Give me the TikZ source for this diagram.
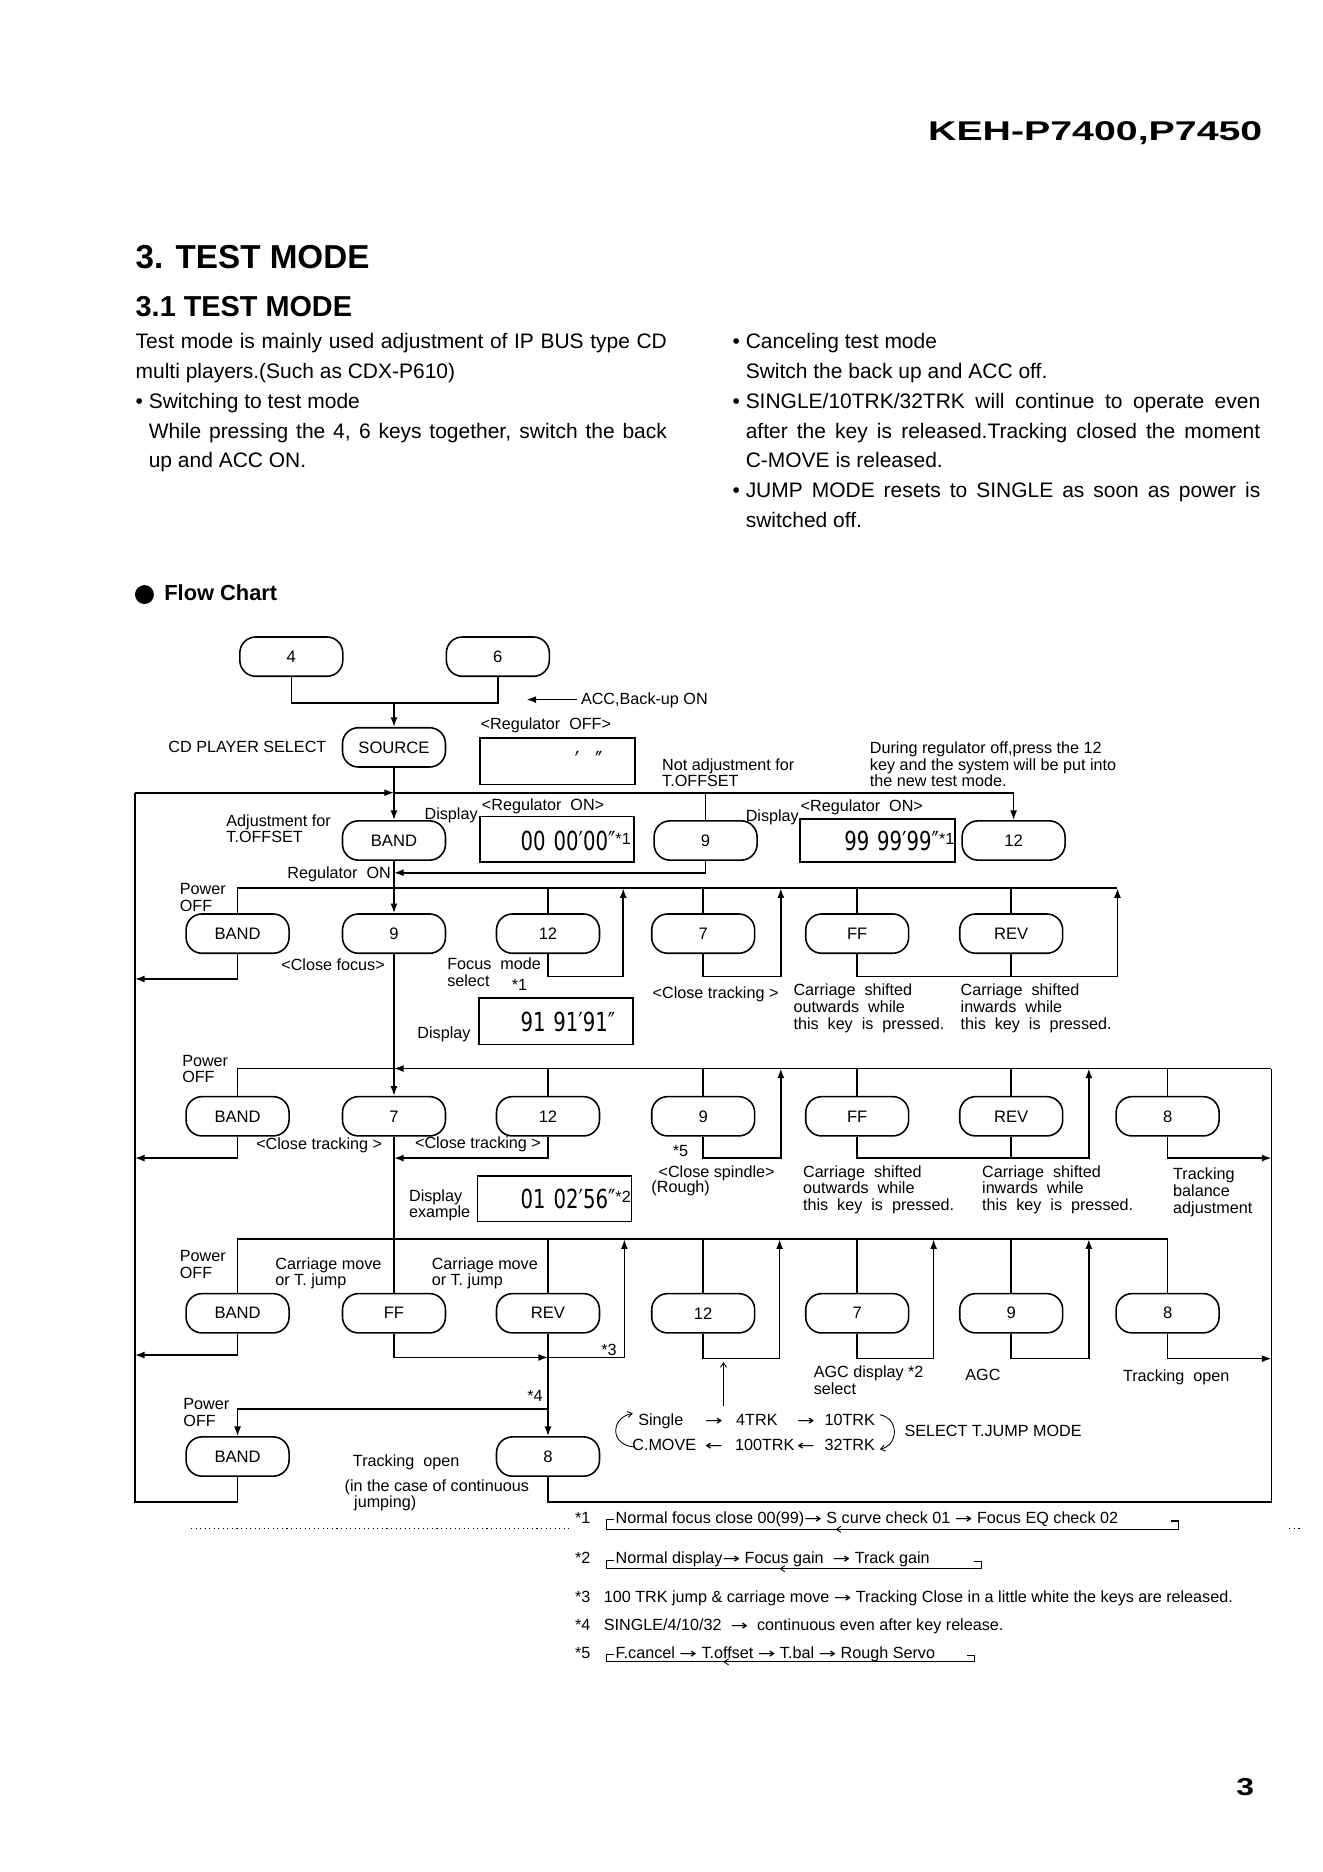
\documentclass[tikz,border=0pt]{standalone}
\usepackage{graphicx}
\usepackage{fontspec}
\setmainfont{Liberation Sans}
\newfontfamily\lcdfont{DejaVu Sans}
\usetikzlibrary{arrows.meta}
\newcommand\lblf{\fontsize{9.25pt}{9.6pt}\selectfont}
\newcommand\keyf{\fontsize{9.5pt}{10pt}\selectfont}
\newcommand\ml[1]{\begin{tabular}[t]{@{}l@{}}#1\end{tabular}}
\newcommand\lcd[1]{\scalebox{0.75}[1]{\lcdfont\fontsize{15pt}{15pt}\selectfont #1}}
\newcommand\bodyf{\fontsize{12pt}{17.07pt}\selectfont}
\newcommand\rar{\scalebox{1.5}[1]{\lcdfont\fontsize{8pt}{8pt}\selectfont →}}
\newcommand\lar{\scalebox{1.5}[1]{\lcdfont\fontsize{8pt}{8pt}\selectfont ←}}
\newcommand\sstar[1]{\raisebox{3pt}{\lblf #1}}
\begin{document}
\begin{tikzpicture}[x=0.024cm,y=-0.024cm, line width=0.9pt,
  key/.style={draw, rounded corners=0.32cm, minimum width=2.07cm, minimum height=0.79cm, inner sep=0pt, font=\keyf},
  lcdbox/.style={draw, inner sep=0pt},
  lcdtxt/.style={inner sep=0pt, anchor=east},
  lab/.style={inner sep=0pt, anchor=base west, font=\lblf},
  labe/.style={inner sep=0pt, anchor=base east, font=\lblf},
  arr/.style={-{Latex[length=5.5pt,width=4pt]}},
  thinarr/.style={line width=0.5pt,-{Straight Barb[length=2.5pt,width=3.5pt]}},
  fn/.style={line width=0.6pt}]
\useasboundingbox (0,0) rectangle (1108,1568);
\fill[white] (0,0) rectangle (1108,1568);

% header and text
\node[anchor=base east, inner sep=0pt, font=\bfseries\fontsize{15.5pt}{16pt}\selectfont] (hdr) at (1058,118) {\scalebox{1.45}[1]{KEH-P7400,P7450}};
\node[anchor=base west, inner sep=0pt, font=\bfseries\fontsize{19pt}{20pt}\selectfont] (t1) at (113,225) {3. TEST MODE};
\node[anchor=base west, inner sep=0pt, font=\bfseries\fontsize{16.5pt}{18pt}\selectfont] (t2) at (113,265) {3.1 TEST MODE};
\node[anchor=base west, inner sep=0pt, font=\bodyf] (body1) at (113,292) {\parbox[t]{10.68cm}{\tolerance=10000\hbadness=10000\parskip=0pt
Test mode is mainly used adjustment of IP BUS type CD\linebreak multi players.(Such as CDX-P610)\par
{\leftskip=0.264cm \leavevmode\llap{•\hspace{3.3pt}}Switching to test mode\par
While pressing the 4, 6 keys together, switch the back\linebreak up and ACC ON.\par}}};
\node[anchor=base west, inner sep=0pt, font=\bodyf] (body2) at (624,292) {\parbox[t]{10.344cm}{\tolerance=10000\hbadness=10000\parskip=0pt
\leavevmode\llap{•\hspace{3.3pt}}Canceling test mode\par
Switch the back up and ACC off.\par
\leavevmode\llap{•\hspace{3.3pt}}SINGLE/10TRK/32TRK will continue to operate even\linebreak after the key is released.Tracking closed the moment\linebreak C-MOVE is released.\par
\leavevmode\llap{•\hspace{3.3pt}}JUMP MODE resets to SINGLE as soon as power is\linebreak switched off.\par}};
\fill (121,498) circle (0.19cm);
\node[anchor=base west, inner sep=0pt, font=\bfseries\fontsize{12.5pt}{13pt}\selectfont] (fc) at (137,503) {Flow Chart};

% row 0
\node[key] (k4) at (244,550) {4};
\node[key] (k6) at (417,550) {6};
\coordinate (j0) at (330,589);
\draw (k4.south) |- (j0) -| (k6.south);
\node[key] (src) at (330,626) {SOURCE};
\draw[arr] (j0) -- (src.north);
\coordinate (accS) at (483,586);
\coordinate (accE) at (441,586);
\draw[arr] (accS) -- (accE);
\node[lab] (acc) at (486,590) {ACC,Back-up ON};
\node[labe] (cdsel) at (274,630) {CD PLAYER SELECT};
\node[lab] (regoff) at (402,611) {<Regulator\ \ OFF>};
\node[lcdbox, minimum width=3.12cm, minimum height=0.936cm] (doff) at (467,637.5) {};
\node[inner sep=0pt] (dofft) at (493,637) {\lcd{′\hspace{12pt}″}};
\node[lab] (nadj) at (554,645) {\ml{Not adjustment for\\T.OFFSET}};
\node[lab] (during) at (728,631) {\ml{During regulator off,press the 12\\key and the system will be put into\\the new test mode.}};

% row 1
\coordinate (f1) at (113,664);
\coordinate (j1) at (330,664);
\node[key] (band1) at (330,704) {BAND};
\node[lcdbox, minimum width=3.096cm, minimum height=0.912cm] (d1) at (466.5,703) {};
\node[lcdtxt] (d1t) at (529,704) {\lcd{00\hspace{6pt}00′00″}\sstar{*1}};
\node[key] (n9a) at (591,704) {9};
\node[lcdbox, minimum width=3.12cm, minimum height=0.864cm] (d2) at (735,704) {};
\node[lcdtxt] (d2t) at (800,704) {\lcd{99\hspace{6pt}99′99″}\sstar{*1}};
\node[key] (n12a) at (849,704) {12};
\draw[arr] (f1) -- (j1);
\draw[arr] (j1) -| (n12a.north);
\draw (n9a.north) -- (n9a.north |- j1);
\draw[arr] (src.south) -- (band1.north);
\coordinate (j1b) at (330,731);
\draw[arr] (n9a.south) |- (j1b);
\node[lab] (adj) at (189,692) {\ml{Adjustment for\\T.OFFSET}};
\node[lab] (disp1) at (355,686) {Display};
\node[lab] (regon1) at (403,679) {<Regulator\ \ ON>};
\node[lab] (disp2) at (624,688) {Display};
\node[lab] (regon2) at (670,680) {<Regulator\ \ ON>};
\node[labe] (regon3) at (328,736) {Regulator\ \ ON};

% row 2
\node[key] (band2) at (199,782) {BAND};
\node[key] (n9b) at (330,782) {9};
\node[key] (n12b) at (459,782) {12};
\node[key] (n7b) at (589,782) {7};
\node[key] (ffb) at (718,782) {FF};
\node[key] (revb) at (847,782) {REV};
\draw[arr] (band1.south) -- (n9b.north);
\coordinate (t2r) at (936,744);
\coordinate (r2b) at (0,818);
\coordinate (u2a) at (522,744);
\coordinate (u2b) at (654,744);
\coordinate (fl2) at (113,820);
\draw (band2.north) |- (t2r);
\foreach \n in {n12b,n7b,ffb,revb} \draw (\n.north) -- (\n.north |- t2r);
\draw[arr] (n12b.south) |- (u2a |- r2b) -- (u2a);
\draw[arr] (n7b.south) |- (u2b |- r2b) -- (u2b);
\draw[arr] (ffb.south) |- (t2r |- r2b) -- (t2r);
\draw (revb.south) -- (revb.south |- r2b);
\draw[arr] (band2.south) |- (fl2);
\node[lab] (pw2) at (150,749) {\ml{Power\\OFF}};
\node[lab] (cf) at (235,813) {<Close focus>};
\node[lab] (fms) at (374,812) {\ml{Focus\ \ mode\\select}};
\node[lab] (s1) at (428,830) {*1};
\node[lcdbox, minimum width=3.096cm, minimum height=0.936cm] (d3) at (465.5,855.5) {};
\node[lcdtxt] (d3t) at (516,856) {\lcd{91\hspace{6pt}91′91″}};
\node[lab] (disp3) at (349,870) {Display};
\node[lab] (ct1) at (546,836) {<Close tracking >};
\node[lab] (cs1) at (664,834) {\ml{Carriage\ \ shifted\\outwards\ \ while\\this\ \ key\ \ is\ \ pressed.}};
\node[lab] (cs2) at (804,834) {\ml{Carriage\ \ shifted\\inwards\ \ while\\this\ \ key\ \ is\ \ pressed.}};

% row 3
\node[key] (band3) at (199,935) {BAND};
\node[key] (n7c) at (330,935) {7};
\node[key] (n12c) at (459,935) {12};
\node[key] (n9c) at (589,935) {9};
\node[key] (ffc) at (718,935) {FF};
\node[key] (revc) at (847,935) {REV};
\node[key] (n8c) at (978,935) {8};
\draw[arr] (n9b.south) -- (n7c.north);
\coordinate (j3) at (330,895);
\coordinate (f3r) at (1065,895);
\coordinate (r3b) at (0,970);
\coordinate (j3b) at (330,970);
\coordinate (u3a) at (654,895);
\coordinate (u3b) at (912,895);
\coordinate (fl3) at (113,970);
\draw (band3.north) |- (j3);
\draw[arr] (f3r) -- (j3);
\foreach \n in {n12c,n9c,ffc,revc,n8c} \draw (\n.north) -- (\n.north |- j3);
\draw[arr] (band3.south) |- (fl3);
\draw[arr] (n12c.south) |- (j3b);
\draw[arr] (n9c.south) |- (u3a |- r3b) -- (u3a);
\draw[arr] (ffc.south) |- (u3b |- r3b) -- (u3b);
\draw (revc.south) -- (revc.south |- r3b);
\draw[arr] (n8c.south) |- (f3r |- r3b);
\node[lab] (pw3) at (152,893) {\ml{Power\\OFF}};
\node[lab] (ct2) at (214,963) {<Close tracking >};
\node[lab] (ct3) at (347,962) {<Close tracking >};
\node[lab] (s5) at (563,969) {*5};
\node[lab] (csp) at (551,986) {<Close spindle>};
\node[lab] (rough) at (545,999) {(Rough)};
\node[lcdbox, minimum width=3.096cm, minimum height=0.912cm] (d4) at (464.5,1004) {};
\node[lcdtxt] (d4t) at (529,1004) {\lcd{01\hspace{6pt}02′56″}\sstar{*2}};
\node[lab] (disp4) at (342,1006) {\ml{Display\\example}};
\node[lab] (cs3) at (672,986) {\ml{Carriage\ \ shifted\\outwards\ \ while\\this\ \ key\ \ is\ \ pressed.}};
\node[lab] (cs4) at (822,986) {\ml{Carriage\ \ shifted\\inwards\ \ while\\this\ \ key\ \ is\ \ pressed.}};
\node[lab] (tba) at (982,988) {\ml{Tracking\\balance\\adjustment}};

% row 4
\node[key] (band4) at (199,1100) {BAND};
\node[key] (ffd) at (330,1100) {FF};
\node[key] (revd) at (459,1100) {REV};
\node[key] (n12d) at (589,1100) {12};
\node[key] (n7d) at (718,1100) {7};
\node[key] (n9d) at (847,1100) {9};
\node[key] (n8d) at (978,1100) {8};
\draw (n7c.south) -- (ffd.north);
\coordinate (t4) at (978,1038);
\coordinate (r4b) at (0,1138);
\coordinate (j4a) at (459,1137);
\coordinate (j4b) at (459,1180);
\coordinate (u4a) at (523,1038);
\coordinate (u4b) at (653,1038);
\coordinate (u4c) at (782,1038);
\coordinate (u4d) at (912,1038);
\coordinate (fl4) at (113,1135);
\draw (band4.north) |- (t4) -- (n8d.north);
\foreach \n in {revd,n12d,n7d,n9d} \draw (\n.north) -- (\n.north |- t4);
\draw[arr] (ffd.south) |- (j4a);
\draw[arr] (j4a) -- (u4a |- j4a) -- (u4a);
\draw[arr] (band4.south) |- (fl4);
\draw[arr] (n12d.south) |- (u4b |- r4b) -- (u4b);
\draw[arr] (n7d.south) |- (u4c |- r4b) -- (u4c);
\draw[arr] (n9d.south) |- (u4d |- r4b) -- (u4d);
\draw[arr] (n8d.south) |- (f3r |- r4b);
\node[lab] (pw4) at (150,1057) {\ml{Power\\OFF}};
\node[lab] (cm1) at (230,1063) {\ml{Carriage move\\or T. jump}};
\node[lab] (cm2) at (361,1063) {\ml{Carriage move\\or T. jump}};
\node[lab] (s3) at (503,1135) {*3};
\node[lab] (agcd) at (681,1154) {\ml{AGC display *2\\select}};
\node[lab] (agc) at (808,1156) {AGC};
\node[lab] (to1) at (940,1157) {Tracking\ \ open};
\node[lab] (s4) at (441,1174) {*4};

% row 5
\node[key] (band5) at (199,1220) {BAND};
\node[key] (n8e) at (459,1220) {8};
\draw[arr] (revd.south) -- (n8e.north);
\draw[arr] (j4b) -| (band5.north);
\coordinate (fbl) at (113,1258);
\coordinate (fbr) at (1065,1258);
\draw (band5.south) |- (fbl) -- (f1);
\draw (n8e.south) |- (fbr) -- (f3r);
\node[lab] (pw5) at (153,1181) {\ml{Power\\OFF}};
\node[lab] (to2) at (295,1228) {Tracking\ \ open};
\node[lab] (cont1) at (288,1249) {(in the case of continuous};
\node[lab] (cont2) at (296,1263) {jumping)};

% T.JUMP mode cycle
\coordinate (tjs) at (606,1178);
\coordinate (tje) at (606,1141);
\draw[thinarr] (tjs) -- (tje);
\node[lab] (sg) at (534,1194) {Single};
\node[lab] (a1) at (590,1194) {\rar};
\node[lab] (tk4) at (616,1194) {4TRK};
\node[lab] (a2) at (667,1194) {\rar};
\node[lab] (tk10) at (690,1194) {10TRK};
\node[lab] (cmv) at (529,1215) {C.MOVE};
\node[lab] (a3) at (590,1215) {\lar};
\node[lab] (tk100) at (615,1215) {100TRK};
\node[lab] (a4) at (667,1215) {\lar};
\node[lab] (tk32) at (690,1215) {32TRK};
\node[lab] (sel) at (757,1203) {SELECT T.JUMP MODE};
\coordinate (cl1) at (531,1212);
\coordinate (cl2) at (530,1184);
\draw[thinarr] (cl1) .. controls (510,1210) and (512,1187) .. (cl2);
\coordinate (cr1) at (737,1185);
\coordinate (cr2) at (737,1214);
\draw[thinarr] (cr1) .. controls (753,1188) and (753,1210) .. (cr2);

% footnotes
\draw[dotted, line width=0.6pt] (160,1280) -- (478,1280);
\draw[dotted, line width=0.6pt] (1080,1280) -- (1090,1280);
\node[lab] (fn1) at (481,1276) {*1};
\node[lab] (fn1t) at (515,1276) {Normal focus close 00(99)\rar\ S curve check 01 \rar\ Focus EQ check 02};
\draw[fn] (514,1273) -- (508,1273) -- (508,1281) -- (987,1281) -- (987,1274) -- (981,1274);
\draw[thinarr] (707,1281) -- (700,1281);
\node[lab] (fn2) at (481,1310) {*2};
\node[lab] (fn2t) at (515,1310) {Normal display\rar\ Focus gain\ \ \rar\ Track gain};
\draw[fn] (514,1307) -- (508,1307) -- (508,1314) -- (822,1314) -- (822,1308) -- (816,1308);
\draw[thinarr] (660,1314) -- (653,1314);
\node[lab] (fn3) at (481,1342) {*3\ \ \ 100 TRK jump \& carriage move \rar\ Tracking Close in a little white the keys are released.};
\node[lab] (fn4) at (481,1366) {*4\ \ \ SINGLE/4/10/32\ \ \rar\ \ continuous even after key release.};
\node[lab] (fn5) at (481,1389) {*5};
\node[lab] (fn5t) at (515,1389) {F.cancel \rar\ T.offset \rar\ T.bal \rar\ Rough Servo};
\draw[fn] (514,1386) -- (508,1386) -- (508,1392) -- (816,1392) -- (816,1387) -- (810,1387);
\draw[thinarr] (613,1392) -- (606,1392);

\node[inner sep=0pt, font=\bfseries\fontsize{14pt}{14pt}\selectfont] (pg) at (1043,1497) {\scalebox{1.3}[1]{3}};
\end{tikzpicture}
\end{document}
